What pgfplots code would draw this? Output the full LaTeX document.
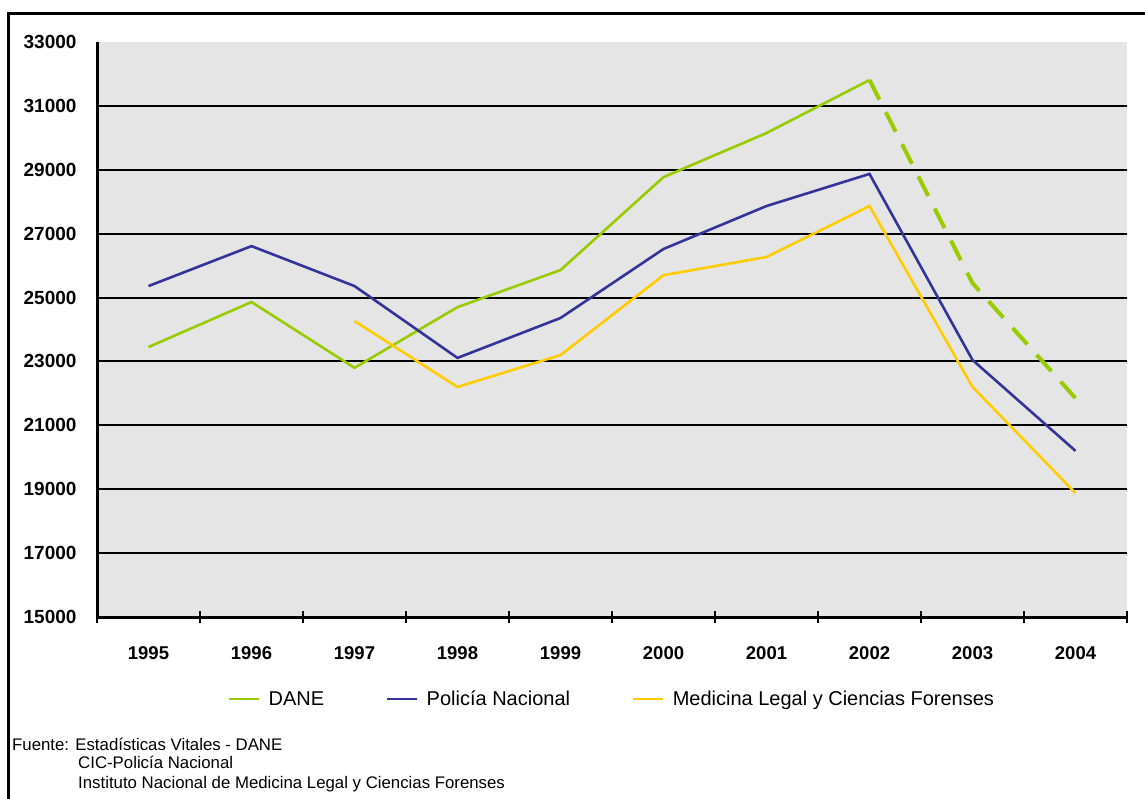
\documentclass[border=0pt]{standalone}
\usepackage{fontspec}
\setmainfont{Liberation Sans}
\usepackage{pgfplots}
\pgfplotsset{compat=1.18}
\definecolor{dane}{RGB}{153,204,0}
\definecolor{pol}{RGB}{51,51,153}
\definecolor{med}{RGB}{255,204,0}
\definecolor{bg}{RGB}{229,229,229}
\begin{document}
\begin{tikzpicture}[x=1pt,y=1pt]
\path[use as bounding box] (0,0) rectangle (1145,798);
\begin{axis}[
  at={(97pt,181pt)}, anchor=south west,
  scale only axis, width=1030pt, height=575pt,
  xmin=0, xmax=10, ymin=15000, ymax=33000,
  scaled ticks=false,
  axis x line*=bottom, axis y line*=left,
  axis line style={line width=3pt, black, -},
  axis background/.style={fill=bg},
  tick align=center, major tick length=12pt,
  xtick={0,1,...,10}, xticklabels={},
  xtick style={draw=black, line width=2pt},
  extra x ticks={0.5,1.5,...,9.5},
  extra x tick labels={1995,1996,1997,1998,1999,2000,2001,2002,2003,2004},
  extra x tick style={xtick style={draw=none}, major tick length=0pt},
  ytick={15000,17000,...,31000},
  extra y ticks={33000},
  extra y tick style={grid=none},
  ymajorgrids=true,
  major grid style={line width=2pt, black},
  ytick style={draw=none},
  /pgf/number format/.cd, 1000 sep={}, assume math mode=true, /pgfplots/.cd,
  xticklabel style={font=\bfseries\fontsize{18.5}{18.5}\selectfont, yshift=-26pt},
  yticklabel style={font=\bfseries\fontsize{19}{19}\selectfont, xshift=-11pt},
  legend style={at={(0.5,-0.1426)}, anchor=center, draw=none, fill=none,
    font=\fontsize{20}{20}\selectfont,
    /tikz/every odd column/.append style={column sep=6pt},
    /tikz/every even column/.append style={column sep=60pt}},
  legend columns=3,
  legend image code/.code={\draw[#1, solid, line width=2.6pt] (0pt,0pt) -- (30pt,0pt);},
]
\addplot[dane, line width=2.6pt, line join=miter] coordinates {(0.5,23450) (1.5,24860) (2.5,22800) (3.5,24700) (4.5,25860) (5.5,28770) (6.5,30150) (7.5,31810)};
\addlegendentry{DANE}
\addplot[pol, line width=2.6pt, line join=miter] coordinates {(0.5,25360) (1.5,26610) (2.5,25360) (3.5,23110) (4.5,24360) (5.5,26520) (6.5,27865) (7.5,28870) (8.5,23045) (9.5,20200)};
\addlegendentry{Policía Nacional}
\addplot[med, line width=2.6pt, line join=miter] coordinates {(2.5,24265) (3.5,22200) (4.5,23200) (5.5,25700) (6.5,26270) (7.5,27865) (8.5,22200) (9.5,18880)};
\addlegendentry{Medicina Legal y Ciencias Forenses}
\addplot[dane, line width=4pt, dash pattern=on 22pt off 14pt, forget plot] coordinates {(7.5,31810) (8.5,25450) (9.5,21850)};
\end{axis}
\draw[line width=3pt] (8,-20) -- (8,784) -- (1200,784);
\node[anchor=base west, inner sep=0, font=\fontsize{16.8}{16.8}\selectfont] at (12,48) {Fuente: Estadísticas Vitales - DANE};
\node[anchor=base west, inner sep=0, font=\fontsize{16.8}{16.8}\selectfont] at (78,30) {CIC-Policía Nacional};
\node[anchor=base west, inner sep=0, font=\fontsize{16.8}{16.8}\selectfont] at (78,10) {Instituto Nacional de Medicina Legal y Ciencias Forenses};
\end{tikzpicture}
\end{document}
